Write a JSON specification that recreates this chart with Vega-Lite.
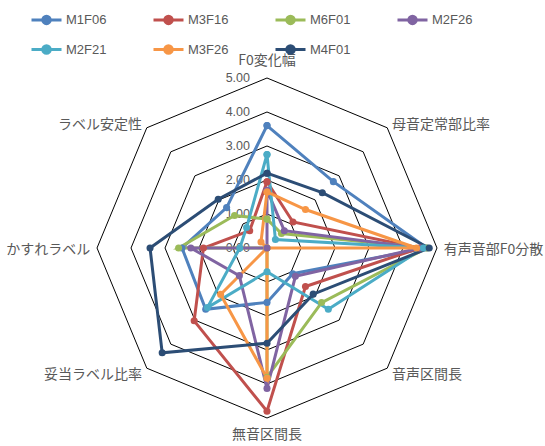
{
  "$schema": "https://vega.github.io/schema/vega-lite/v6.json",
  "width": 545,
  "height": 446,
  "autosize": "none",
  "padding": 0,
  "background": "white",
  "config": {"view": {"stroke": null}},
  "datasets": {
    "axes": [
      {"axis": "F0変化幅", "k": 0},
      {"axis": "母音定常部比率", "k": 1},
      {"axis": "有声音部F0分散", "k": 2},
      {"axis": "音声区間長", "k": 3},
      {"axis": "無音区間長", "k": 4},
      {"axis": "妥当ラベル比率", "k": 5},
      {"axis": "かすれラベル", "k": 6},
      {"axis": "ラベル安定性", "k": 7}
    ],
    "ticks": [{"t": 0}, {"t": 1}, {"t": 2}, {"t": 3}, {"t": 4}, {"t": 5}],
    "scores": [
      {"s": "M1F06", "a": "F0変化幅", "v": 3.6},
      {"s": "M1F06", "a": "母音定常部比率", "v": 2.76},
      {"s": "M1F06", "a": "有声音部F0分散", "v": 4.7},
      {"s": "M1F06", "a": "音声区間長", "v": 1.07},
      {"s": "M1F06", "a": "無音区間長", "v": 1.6},
      {"s": "M1F06", "a": "妥当ラベル比率", "v": 2.55},
      {"s": "M1F06", "a": "かすれラベル", "v": 2.5},
      {"s": "M1F06", "a": "ラベル安定性", "v": 1.68},
      {"s": "M3F16", "a": "F0変化幅", "v": 1.95},
      {"s": "M3F16", "a": "母音定常部比率", "v": 1.08},
      {"s": "M3F16", "a": "有声音部F0分散", "v": 4.5},
      {"s": "M3F16", "a": "音声区間長", "v": 1.6},
      {"s": "M3F16", "a": "無音区間長", "v": 4.8},
      {"s": "M3F16", "a": "妥当ラベル比率", "v": 3.03},
      {"s": "M3F16", "a": "かすれラベル", "v": 1.87},
      {"s": "M3F16", "a": "ラベル安定性", "v": 0.72},
      {"s": "M6F01", "a": "F0変化幅", "v": 0.85},
      {"s": "M6F01", "a": "母音定常部比率", "v": 0.6},
      {"s": "M6F01", "a": "有声音部F0分散", "v": 4.7},
      {"s": "M6F01", "a": "音声区間長", "v": 2.27},
      {"s": "M6F01", "a": "無音区間長", "v": 3.8},
      {"s": "M6F01", "a": "妥当ラベル比率", "v": 0},
      {"s": "M6F01", "a": "かすれラベル", "v": 2.6},
      {"s": "M6F01", "a": "ラベル安定性", "v": 1.35},
      {"s": "M2F26", "a": "F0変化幅", "v": 1.7},
      {"s": "M2F26", "a": "母音定常部比率", "v": 0.72},
      {"s": "M2F26", "a": "有声音部F0分散", "v": 4.5},
      {"s": "M2F26", "a": "音声区間長", "v": 1.18},
      {"s": "M2F26", "a": "無音区間長", "v": 4.13},
      {"s": "M2F26", "a": "妥当ラベル比率", "v": 1.15},
      {"s": "M2F26", "a": "かすれラベル", "v": 2.24},
      {"s": "M2F26", "a": "ラベル安定性", "v": 0},
      {"s": "M2F21", "a": "F0変化幅", "v": 2.75},
      {"s": "M2F21", "a": "母音定常部比率", "v": 0.35},
      {"s": "M2F21", "a": "有声音部F0分散", "v": 4.6},
      {"s": "M2F21", "a": "音声区間長", "v": 2.55},
      {"s": "M2F21", "a": "無音区間長", "v": 0.7},
      {"s": "M2F21", "a": "妥当ラベル比率", "v": 2.48},
      {"s": "M2F21", "a": "かすれラベル", "v": 0.8},
      {"s": "M2F21", "a": "ラベル安定性", "v": 0.85},
      {"s": "M3F26", "a": "F0変化幅", "v": 1.65},
      {"s": "M3F26", "a": "母音定常部比率", "v": 1.6},
      {"s": "M3F26", "a": "有声音部F0分散", "v": 4.4},
      {"s": "M3F26", "a": "音声区間長", "v": 0},
      {"s": "M3F26", "a": "無音区間長", "v": 3.83},
      {"s": "M3F26", "a": "妥当ラベル比率", "v": 1.93},
      {"s": "M3F26", "a": "かすれラベル", "v": 0},
      {"s": "M3F26", "a": "ラベル安定性", "v": 0.25},
      {"s": "M4F01", "a": "F0変化幅", "v": 2.2},
      {"s": "M4F01", "a": "母音定常部比率", "v": 2.3},
      {"s": "M4F01", "a": "有声音部F0分散", "v": 4.77},
      {"s": "M4F01", "a": "音声区間長", "v": 1.92},
      {"s": "M4F01", "a": "無音区間長", "v": 2.8},
      {"s": "M4F01", "a": "妥当ラベル比率", "v": 4.36},
      {"s": "M4F01", "a": "かすれラベル", "v": 3.44},
      {"s": "M4F01", "a": "ラベル安定性", "v": 2.03}
    ]
  },
  "layer": [
    {
      "data": {"name": "axes"},
      "transform": [
        {"calculate": "datum.k == 0 ? [0, 8] : [datum.k]", "as": "kk"},
        {"flatten": ["kk"]},
        {"calculate": "[1, 2, 3, 4, 5]", "as": "ring"},
        {"flatten": ["ring"]},
        {"calculate": "datum.ring * sin(datum.kk * PI / 4)", "as": "gx"},
        {"calculate": "datum.ring * cos(datum.kk * PI / 4)", "as": "gy"}
      ],
      "mark": {"type": "line", "stroke": "#000000", "strokeWidth": 1},
      "encoding": {
        "x": {"field": "gx", "type": "quantitative", "scale": {"domain": [-7.853, 8.176], "nice": false, "zero": false}, "axis": null},
        "y": {"field": "gy", "type": "quantitative", "scale": {"domain": [-5.824, 7.294], "nice": false, "zero": false}, "axis": null},
        "detail": {"field": "ring", "type": "nominal"},
        "order": {"field": "kk", "type": "quantitative"}
      }
    },
    {
      "data": {"name": "ticks"},
      "mark": {"type": "text", "align": "right", "baseline": "middle", "dx": -17, "font": "Liberation Sans", "fontSize": 12.5, "color": "#595959"},
      "encoding": {
        "x": {"datum": 0, "type": "quantitative"},
        "y": {"field": "t", "type": "quantitative"},
        "text": {"field": "t", "type": "quantitative", "format": ".2f"}
      }
    },
    {
      "data": {"name": "axes"},
      "transform": [
        {"filter": "datum.k == 0 || datum.k == 4"},
        {"calculate": "5.5 * sin(datum.k * PI / 4)", "as": "lx"},
        {"calculate": "5.5 * cos(datum.k * PI / 4)", "as": "ly"}
      ],
      "mark": {"type": "text", "align": "center", "baseline": "middle", "font": "Noto Sans CJK JP", "fontSize": 14, "color": "#595959"},
      "encoding": {
        "x": {"field": "lx", "type": "quantitative"},
        "y": {"field": "ly", "type": "quantitative"},
        "text": {"field": "axis"}
      }
    },
    {
      "data": {"name": "axes"},
      "transform": [
        {"filter": "datum.k >= 1 && datum.k <= 3"},
        {"calculate": "5.2 * sin(datum.k * PI / 4)", "as": "lx"},
        {"calculate": "5.2 * cos(datum.k * PI / 4)", "as": "ly"}
      ],
      "mark": {"type": "text", "align": "left", "baseline": "middle", "dy": 2, "font": "Noto Sans CJK JP", "fontSize": 14, "color": "#595959"},
      "encoding": {
        "x": {"field": "lx", "type": "quantitative"},
        "y": {"field": "ly", "type": "quantitative"},
        "text": {"field": "axis"}
      }
    },
    {
      "data": {"name": "axes"},
      "transform": [
        {"filter": "datum.k >= 5"},
        {"calculate": "5.2 * sin(datum.k * PI / 4)", "as": "lx"},
        {"calculate": "5.2 * cos(datum.k * PI / 4)", "as": "ly"}
      ],
      "mark": {"type": "text", "align": "right", "baseline": "middle", "dy": 2, "font": "Noto Sans CJK JP", "fontSize": 14, "color": "#595959"},
      "encoding": {
        "x": {"field": "lx", "type": "quantitative"},
        "y": {"field": "ly", "type": "quantitative"},
        "text": {"field": "axis"}
      }
    },
    {
      "data": {"name": "scores"},
      "transform": [
        {"lookup": "a", "from": {"data": {"name": "axes"}, "key": "axis", "fields": ["k"]}},
        {"calculate": "datum.k == 0 ? [0, 8] : [datum.k]", "as": "kk"},
        {"flatten": ["kk"]},
        {"calculate": "datum.v * sin(datum.kk * PI / 4)", "as": "px"},
        {"calculate": "datum.v * cos(datum.kk * PI / 4)", "as": "py"}
      ],
      "mark": {"type": "line", "strokeWidth": 3, "point": {"filled": true, "size": 50, "opacity": 1}},
      "encoding": {
        "x": {"field": "px", "type": "quantitative"},
        "y": {"field": "py", "type": "quantitative"},
        "order": {"field": "kk", "type": "quantitative"},
        "color": {
          "field": "s",
          "type": "nominal",
          "scale": {
            "domain": ["M1F06", "M3F16", "M6F01", "M2F26", "M2F21", "M3F26", "M4F01"],
            "range": ["#4F81BD", "#C0504D", "#9BBB59", "#8064A2", "#4BACC6", "#F79646", "#2C4D75"]
          },
          "legend": {
            "title": null,
            "orient": "none",
            "legendX": 30,
            "legendY": 3,
            "direction": "horizontal",
            "columns": 4,
            "symbolType": "M-1,0H1M0.25,0A0.25,0.25,0,1,1,-0.25,0A0.25,0.25,0,1,1,0.25,0Z",
            "symbolSize": 900,
            "symbolStrokeWidth": 3,
            "labelFont": "Liberation Sans",
            "labelFontSize": 13,
            "labelColor": "#595959",
            "labelOffset": 3,
            "columnPadding": 40,
            "rowPadding": 3
          }
        }
      }
    }
  ]
}
